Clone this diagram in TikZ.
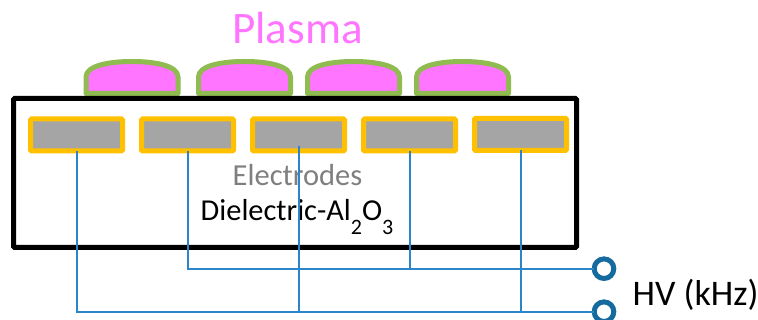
\documentclass[tikz,border=0pt]{standalone}
\usepackage{fontspec}
\setmainfont{Carlito}
\definecolor{ringcolor}{HTML}{FFC000}
\definecolor{metalcolor}{HTML}{A5A5A5}
\definecolor{domeedge}{HTML}{8FBB50}
\definecolor{domefill}{HTML}{FF75FF}
\definecolor{wirecolor}{HTML}{2A86C8}
\definecolor{portcolor}{HTML}{156A9E}
\definecolor{labelgrey}{HTML}{7F7F7F}

\begin{document}
\begin{tikzpicture}[x=0.75pt,y=-0.75pt,node distance=83.25pt,
    electrode/.style={rectangle,draw=ringcolor,fill=metalcolor,line width=3.75pt,minimum width=69pt,minimum height=24pt,outer sep=0pt,inner sep=0pt,rounded corners=0.8pt},
    port/.style={circle,draw=portcolor,fill=white,line width=3.75pt,minimum size=14.7pt,outer sep=0pt,inner sep=0pt},
    body/.style={rectangle,draw=black,line width=3.75pt,minimum width=422.25pt,minimum height=111.75pt,outer sep=0pt,inner sep=0pt,rounded corners=0.8pt},
    domeline/.style={draw=domeedge,fill=domefill,line width=3.75pt,line join=round},
    dome shape/.style={insert path={-- ++(0,-16.5) .. controls +(0,-11) and +(-24,0) .. ++(46,-15.5) .. controls +(24,0) and +(0,-11) .. ++(46,15.5) -- ++(0,16.5) -- cycle}},
    wire/.style={draw=wirecolor,line width=1.5pt}]

  \useasboundingbox (0,0) rectangle (758,320);

  \node[text=domefill,font=\fontsize{33.8pt}{36pt}\selectfont] (plasma) at (297.5,28) {Plasma};

  \coordinate (d1) at (86,93.5);
  \coordinate (d2) at (198.5,93.5);
  \coordinate (d3) at (307.5,93.5);
  \coordinate (d4) at (416.5,93.5);
  \path[domeline] (d1) [dome shape];
  \path[domeline] (d2) [dome shape];
  \path[domeline] (d3) [dome shape];
  \path[domeline] (d4) [dome shape];

  \node[body] (slab) at (295,173) {};

  \node[electrode] (e1) at (76.5,135) {};
  \node[electrode] (e2) [right of=e1] {};
  \node[electrode] (e3) [right of=e2] {};
  \node[electrode] (e4) [right of=e3] {};
  \node[electrode] (e5) [right of=e4,yshift=0.4pt] {};

  \node[text=labelgrey,font=\fontsize{22.9pt}{24pt}\selectfont] (etext) at (297.5,175) {Electrodes};
  \node[text=black,font=\fontsize{22.8pt}{24pt}\selectfont,anchor=west] (dtext) at (196,217) {Dielectric-Al\raisebox{-10.5pt}{\fontsize{16.5pt}{18pt}\selectfont 2}O\raisebox{-10.5pt}{\fontsize{16.5pt}{18pt}\selectfont 3}};

  \node[port] (t1) at (604,268.7) {};
  \node[port] (t2) at (604,311.7) {};
  \node[text=black,font=\fontsize{27pt}{28pt}\selectfont,anchor=west] (hv) at (628,295) {HV (kHz)};

  \draw[wire] (e2.south) |- (t1.west);
  \draw[wire] (e4.south) -- (e4.center |- t1.west);
  \draw[wire] (e1.south) |- (t2.west);
  \draw[wire] ([yshift=3.75pt]e3.south) -- (e3.center |- t2.west);
  \draw[wire] (e5.south) -- (e5.center |- t2.west);

\end{tikzpicture}
\end{document}
